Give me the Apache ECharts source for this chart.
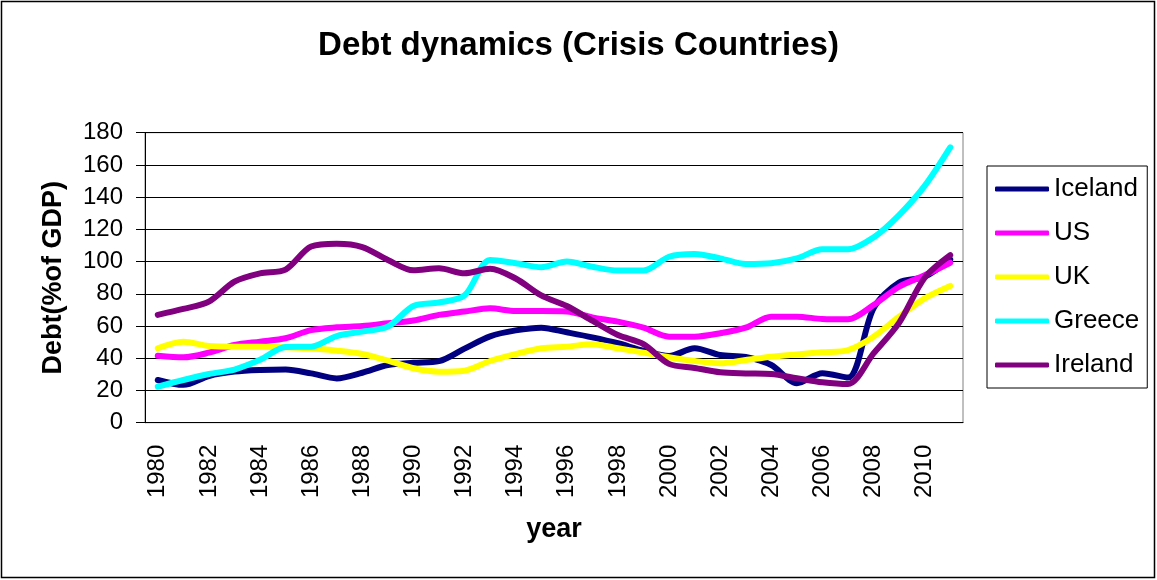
<!DOCTYPE html>
<html>
<head>
<meta charset="utf-8">
<script src="https://cdn.jsdelivr.net/npm/echarts@6/dist/echarts.min.js"></script>
<style>
  html, body { margin: 0; padding: 0; background: #fff; }
  #chart { width: 1157px; height: 580px; }
</style>
</head>
<body>
<div id="chart"></div>
<script>
const years = []
for (let y = 1980; y <= 2011; y++) years.push(String(y))

// debt in % of GDP
const iceland = [26.5, 23.5, 29, 31.7, 32.7, 33, 30.6, 27.5, 31, 35.8, 37.2, 38.2, 46, 53.6, 57.3, 59, 56.1, 53, 49.3, 44.7, 41.4, 46.2, 42, 40.8, 35.8, 24.5, 30.7, 28, 71, 87, 90.6, 101.4]
const us = [41.6, 40.6, 43.5, 48.2, 50.3, 52.4, 57.5, 59.2, 60, 61.7, 63.4, 66.9, 69, 71, 69.3, 69.3, 69, 65.4, 62.7, 59, 53.4, 53.4, 55.5, 59, 65.8, 65.8, 64.4, 64.2, 73, 84.4, 91.5, 99.3]
const uk = [46.2, 50.3, 47.6, 47.2, 47.2, 46.8, 46.2, 44.7, 42.6, 38.5, 33.8, 31.7, 32.3, 38.3, 42.6, 46.2, 47.2, 48.7, 46.2, 43.5, 40.6, 38.3, 36.9, 38.9, 41, 42.4, 43.7, 45.1, 53.4, 65.8, 77.2, 84.9]
const greece = [22.4, 26.5, 30.2, 33, 39, 47, 47.2, 53.8, 56.5, 59.6, 72.4, 74.6, 79, 101, 99, 96.5, 100, 96.8, 94.4, 94.4, 103, 104.7, 102, 98.5, 99, 102, 107.6, 107.6, 115, 128.9, 147, 170.9]
const ireland = [66.9, 70.6, 75.1, 87.5, 92.7, 95, 109.3, 111, 109, 101, 94.6, 95.8, 92.7, 95.6, 89.5, 79, 72.4, 63.3, 54.4, 48.8, 36.5, 34, 31.3, 30.6, 30.2, 27.6, 25.1, 24, 43, 62, 90, 104]

const names = ["Iceland", "US", "UK", "Greece", "Ireland"]
const colors = ["#000080", "#ff00ff", "#ffff00", "#00ffff", "#800080"]
const values = [iceland, us, uk, greece, ireland]

const font = "'Liberation Sans', Arial, sans-serif"

let myChart = echarts.init(document.getElementById("chart"))

let series = names.map((name, i) => ({
  name: name,
  type: "line",
  data: values[i],
  symbol: "none",
  smooth: 0.3,
  color: colors[i],
  lineStyle: { width: 6, color: colors[i], cap: "round", join: "round" },
}))

myChart.setOption({
  backgroundColor: "#fff",
  animation: false,
  textStyle: { fontFamily: font, color: "#000" },
  title: {
    text: "Debt dynamics (Crisis Countries)",
    left: "center",
    top: 24,
    textStyle: { fontFamily: font, fontSize: 33, fontWeight: "bold", color: "#000" },
  },
  legend: {
    orient: "vertical",
    left: 987,
    top: 166,
    padding: [10, 8, 10, 8],
    itemGap: 18,
    itemWidth: 54,
    itemHeight: 5,
    icon: "roundRect",
    borderColor: "#000",
    borderWidth: 1,
    textStyle: { fontFamily: font, fontSize: 26, color: "#000" },
    data: names,
  },
  grid: {
    left: 145,
    right: 194,
    top: 132.7,
    bottom: 157.3,
    show: true,
    borderColor: "#808080",
    borderWidth: 1,
  },
  xAxis: {
    type: "category",
    data: years,
    boundaryGap: true,
    name: "year",
    nameLocation: "middle",
    nameGap: 93,
    nameTextStyle: { fontFamily: font, fontSize: 27, fontWeight: "bold", color: "#000" },
    axisLine: { lineStyle: { color: "#000", width: 1 } },
    axisTick: { interval: 0, length: 9, lineStyle: { color: "#000" } },
    axisLabel: { interval: 1, rotate: 90, margin: 22, fontFamily: font, fontSize: 24, color: "#000" },
  },
  yAxis: {
    type: "value",
    min: 0,
    max: 180,
    interval: 20,
    name: "Debt(%of GDP)",
    nameLocation: "middle",
    nameGap: 78,
    nameRotate: 90,
    nameTextStyle: { fontFamily: font, fontSize: 27, fontWeight: "bold", color: "#000" },
    axisLine: { show: true, lineStyle: { color: "#000", width: 1 } },
    axisTick: { show: true, length: 9, lineStyle: { color: "#000" } },
    axisLabel: { margin: 22, fontFamily: font, fontSize: 24, color: "#000" },
    splitLine: { lineStyle: { color: "#000", width: 1 } },
  },
  graphic: [
    {
      type: "rect",
      shape: { x: 1.5, y: 1.5, width: 1153, height: 576 },
      style: { fill: "none", stroke: "#000", lineWidth: 1.5 },
      silent: true,
    },
  ],
  series: series,
})
</script>
</body>
</html>
